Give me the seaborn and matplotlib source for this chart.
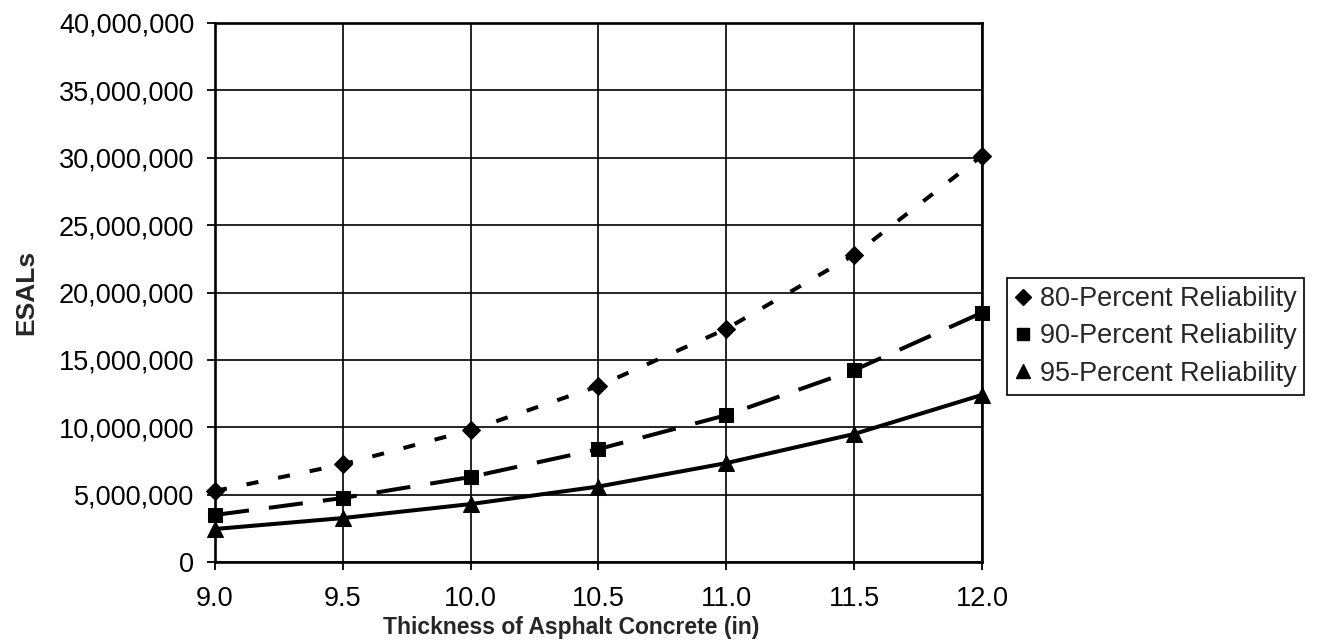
import pandas as pd
import matplotlib
matplotlib.use("Agg")
import matplotlib.pyplot as plt
import matplotlib.ticker as mticker
from matplotlib.lines import Line2D
import seaborn as sns

# ---------------------------------------------------------
# Daten
# ---------------------------------------------------------
thickness = [9.0, 9.5, 10.0, 10.5, 11.0, 11.5, 12.0]
esal_80 = [5270000, 7250000, 9790000, 13060000, 17300000, 22800000, 30150000]
esal_90 = [3490000, 4750000, 6310000, 8380000, 10900000, 14240000, 18500000]
esal_95 = [2450000, 3260000, 4300000, 5600000, 7340000, 9500000, 12400000]
series_labels = ["80-Percent Reliability", "90-Percent Reliability", "95-Percent Reliability"]

df = pd.DataFrame({
    "thickness": thickness * 3,
    "esal": esal_80 + esal_90 + esal_95,
    "series": [series_labels[0]] * 7 + [series_labels[1]] * 7 + [series_labels[2]] * 7,
})

# ---------------------------------------------------------
# Stil
# ---------------------------------------------------------
sns.set_style("white")
plt.rcParams["font.family"] = ["Liberation Sans", "DejaVu Sans"]

styles = {
    series_labels[0]: dict(marker="D", ms=9.0, ls=(0, (3.0, 5.0))),
    series_labels[1]: dict(marker="s", ms=10.0, ls=(0, (8.5, 5.0))),
    series_labels[2]: dict(marker="^", ms=11.5, ls="-"),
}

fig = plt.figure(figsize=(13.17, 6.43), dpi=100)
ax = fig.add_axes([215 / 1317, 1 - 562 / 643, 767 / 1317, 539 / 643])

for name in series_labels:
    st = styles[name]
    sub = df[df["series"] == name]
    sns.lineplot(data=sub, x="thickness", y="esal", ax=ax, color="black",
                 linewidth=2.9, linestyle=st["ls"], marker=st["marker"],
                 markersize=st["ms"], markeredgecolor="black", markerfacecolor="black",
                 clip_on=False, legend=False, zorder=3)

ax.set_xlim(9.0, 12.0)
ax.set_ylim(0, 40000000)
ax.xaxis.set_major_locator(mticker.MultipleLocator(0.5))
ax.yaxis.set_major_locator(mticker.MultipleLocator(5000000))
ax.xaxis.set_major_formatter(mticker.StrMethodFormatter("{x:.1f}"))
ax.yaxis.set_major_formatter(mticker.StrMethodFormatter("{x:,.0f}"))

ax.grid(True, color="black", linewidth=1.2)
for sp in ax.spines.values():
    sp.set_color("black")
    sp.set_linewidth(1.9)
ax.tick_params(axis="both", direction="out", length=6, width=1.3, color="black",
               labelsize=19.5, labelcolor="black", bottom=True, left=True)
ax.tick_params(axis="x", pad=11)
ax.tick_params(axis="y", pad=9)

ax.set_xlabel("Thickness of Asphalt Concrete (in)", fontsize=16.5, fontweight="bold")
ax.xaxis.set_label_coords((571 - 215) / 767, -(616 - 562) / 539)
ax.set_ylabel("ESALs", fontsize=19, fontweight="bold")
ax.yaxis.set_label_coords((38 - 215) / 767, 0.5)

# Legende nur mit Markern
handles = [Line2D([], [], linestyle="none", marker=styles[n]["marker"],
                  markersize=styles[n]["ms"] * 0.9, color="black") for n in series_labels]
leg = fig.legend(handles, series_labels, loc="upper left",
                 bbox_to_anchor=(1007 / 1317, 1 - 278 / 643),
                 fontsize=19.5, frameon=True, fancybox=False, shadow=False,
                 edgecolor="black", framealpha=1, borderpad=0.3,
                 handlelength=0.6, handletextpad=0.3, labelspacing=0.42,
                 borderaxespad=0)
leg.get_frame().set_linewidth(1.2)

plt.savefig("out.png", dpi=100)
